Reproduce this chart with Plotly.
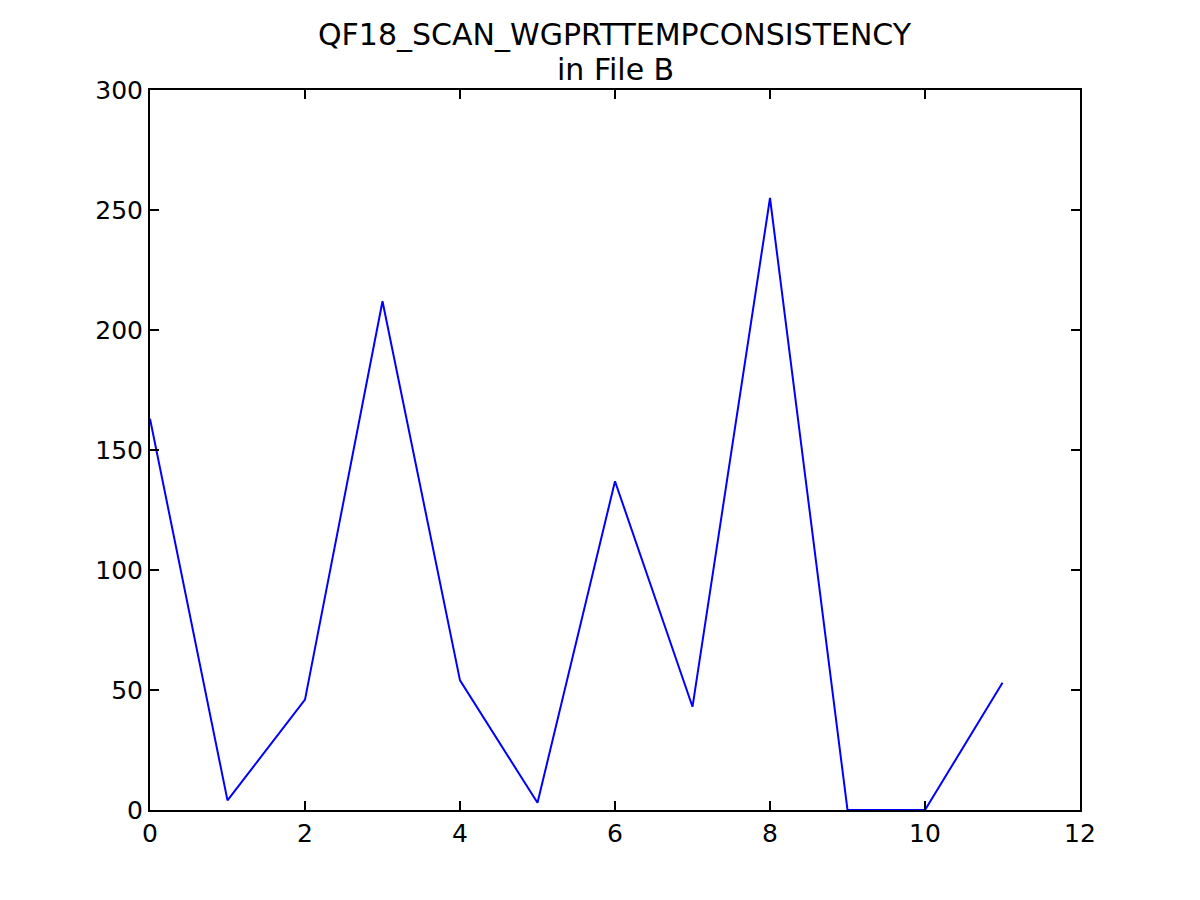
import plotly.graph_objects as go

x_values = [0, 1, 2, 3, 4, 5, 6, 7, 8, 9, 10, 11]
y_values = [163, 4, 46, 212, 54, 3, 137, 43, 255, 0, 0, 53]
x_ticks = [0, 2, 4, 6, 8, 10, 12]
y_ticks = [0, 50, 100, 150, 200, 250, 300]
title_lines = ["QF18_SCAN_WGPRTTEMPCONSISTENCY", "in File B"]

fig = go.Figure()
fig.add_trace(go.Scatter(x=x_values, y=y_values, mode="lines",
                         line=dict(color="#0000ff", width=2)))

font = dict(family="DejaVu Sans", size=25, color="black")
axis_common = dict(showline=True, linecolor="black", linewidth=2, mirror="ticks",
                   ticks="inside", ticklen=9, tickwidth=1.5, tickcolor="black",
                   showgrid=False, zeroline=False, tickfont=font)

# page has 8px body margin; compensate
fig.update_layout(
    width=1200, height=900,
    margin=dict(l=142, r=128, t=82, b=98),
    paper_bgcolor="white", plot_bgcolor="white",
    showlegend=False,
    font=font,
)
title_y = [1.0764, 1.0278]
for txt, ty in zip(title_lines, title_y):
    fig.add_annotation(text=txt, xref="paper", yref="paper", x=0.5, y=ty,
                       xanchor="center", yanchor="middle", showarrow=False,
                       font=dict(family="DejaVu Sans", size=30, color="black"))

fig.update_xaxes(range=[0, 12], tickvals=x_ticks, **axis_common)
fig.update_yaxes(range=[0, 300], tickvals=y_ticks, **axis_common)

fig.write_html("out.html")
